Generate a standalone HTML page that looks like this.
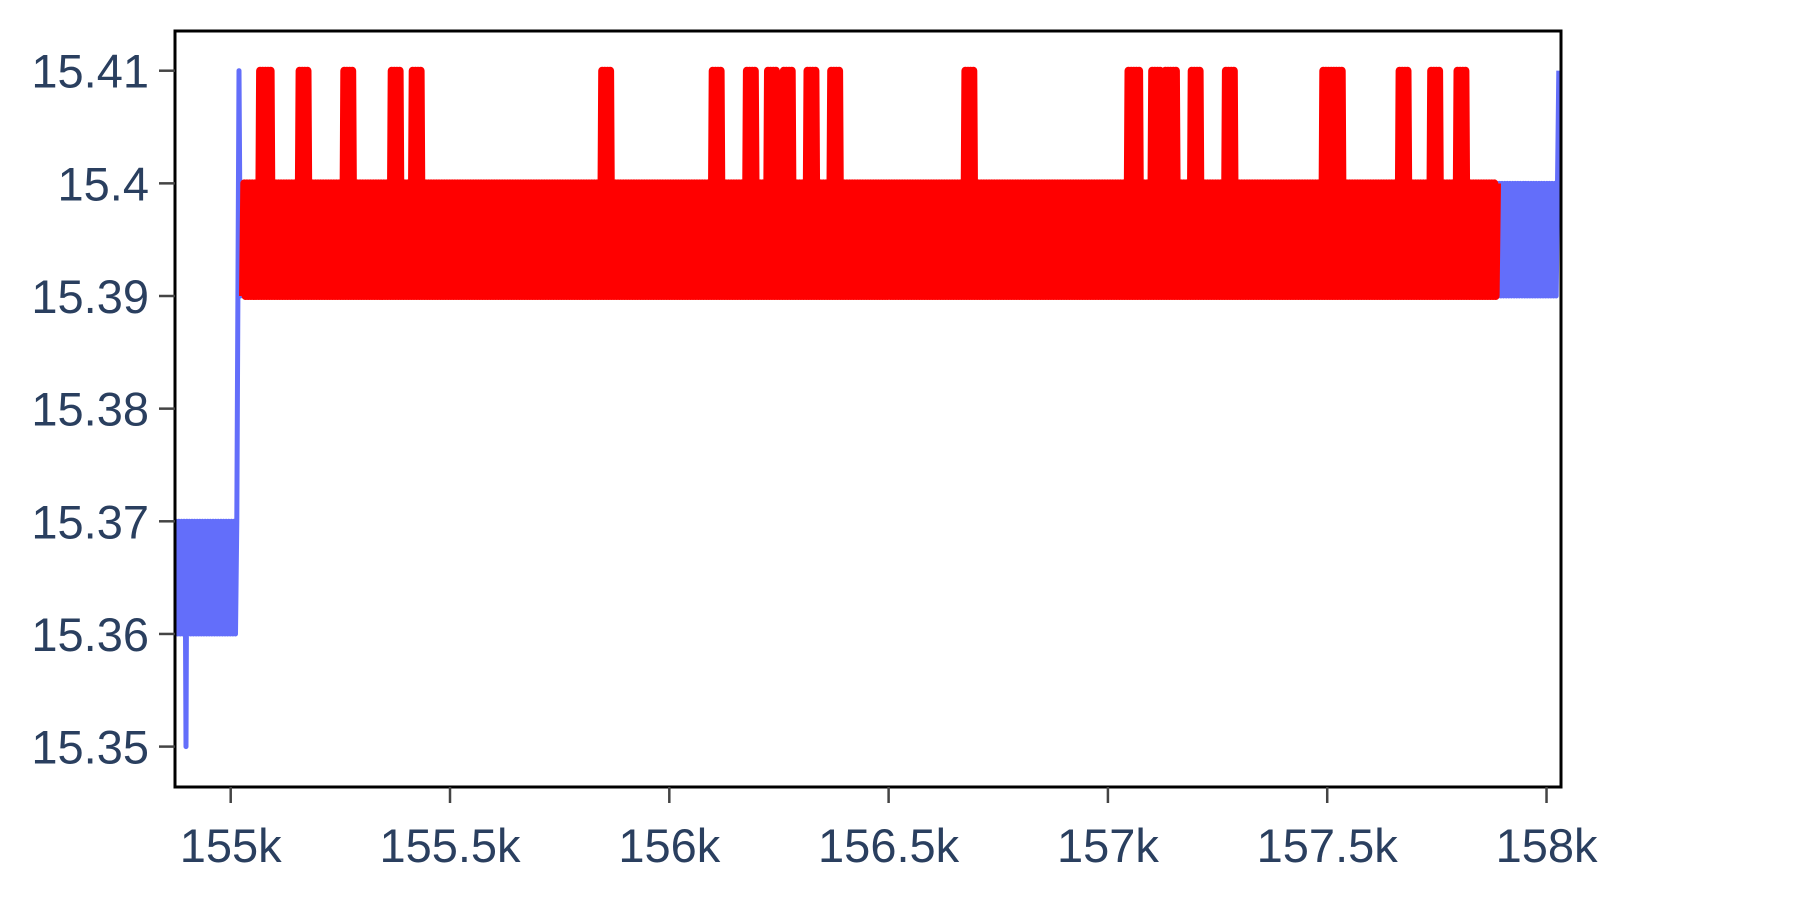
<!DOCTYPE html>
<html><head><meta charset="utf-8"><style>
html,body{margin:0;padding:0;background:#fff;}
svg{display:block;font-family:"Liberation Sans",sans-serif;}
</style></head><body>
<svg id="chart" width="1800" height="900" viewBox="0 0 1800 900">
<defs><clipPath id="plotclip"><rect x="175" y="31" width="1386" height="756"/></clipPath></defs>
<rect x="175" y="31" width="1386" height="756" fill="#fff"/>
<g id="series" clip-path="url(#plotclip)"></g>
<g id="axes"></g>
</svg>
<script>
const yTicks=[15.35,15.36,15.37,15.38,15.39,15.4,15.41];
const yTickLabels=["15.35","15.36","15.37","15.38","15.39","15.4","15.41"];
const xTicks=[155000,155500,156000,156500,157000,157500,158000];
const xTickLabels=["155k","155.5k","156k","156.5k","157k","157.5k","158k"];
const blueRuns=[[154873,155016,15.36,15.37],[155022,158022,15.39,15.40]];
const blueSingles=[[154898,15.35],[155019,15.41],[157526,15.41],[158028,15.41]];
const redRuns=[[155028,157887,15.39,15.40]];
const redSpikes=[155079,155165,155270,155375,155422,155854,156108,156187,156234,156271,156323,156376,156685,157059,157112,157143,157201,157280,157502,157526,157672,157746,157806];
const spikeValue=15.41;
const runStep=3;
const spikeHalfWidth=12;

const L=175,R=1561,T=31,B=787;
const X0=154873,X1=158033;
function xs(v){return L+(v-X0)/(X1-X0)*(R-L);}
function ys(v){return 296+(15.39-v)/0.01*112.65;}
const NS="http://www.w3.org/2000/svg";
function build(runs,singles,spikes){
  let pts=[];
  runs.forEach(r=>{let k=0;for(let x=r[0];x<=r[1];x+=runStep){pts.push([x,k%2?r[3]:r[2],k%2]);k++;}});
  singles.forEach(s=>pts.push([s[0],s[1],0]));
  spikes.forEach(sx=>{pts.forEach(p=>{if(p[2]===1&&Math.abs(p[0]-sx)<=spikeHalfWidth)p[1]=spikeValue;});});
  pts.sort((a,b)=>a[0]-b[0]);
  return pts.map((p,i)=>(i?"L":"M")+xs(p[0]).toFixed(1)+","+ys(p[1]).toFixed(1)).join("");
}
const sg=document.getElementById("series");
const pb=document.createElementNS(NS,"path");
pb.setAttribute("d",build(blueRuns,blueSingles,[]));
pb.setAttribute("fill","none");pb.setAttribute("stroke","#636efa");pb.setAttribute("stroke-width","5");pb.setAttribute("stroke-linejoin","round");


sg.appendChild(pb);
const pr=document.createElementNS(NS,"path");
pr.setAttribute("d",build(redRuns,[],redSpikes));
pr.setAttribute("fill","none");pr.setAttribute("stroke","#ff0000");pr.setAttribute("stroke-width","8");pr.setAttribute("stroke-linejoin","round");


sg.appendChild(pr);

const ax=document.getElementById("axes");
const frame=document.createElementNS(NS,"rect");
frame.setAttribute("x",L);frame.setAttribute("y",T);frame.setAttribute("width",R-L);frame.setAttribute("height",B-T);
frame.setAttribute("fill","none");frame.setAttribute("stroke","#000");frame.setAttribute("stroke-width","3");


ax.appendChild(frame);
yTicks.forEach((v,i)=>{
  const y=ys(v);
  const t=document.createElementNS(NS,"line");
  t.setAttribute("x1",159);t.setAttribute("x2",175);t.setAttribute("y1",y);t.setAttribute("y2",y);
  t.setAttribute("stroke","#444");t.setAttribute("stroke-width","2.5");
  
  
  ax.appendChild(t);
  const tx=document.createElementNS(NS,"text");
  tx.setAttribute("x",149);tx.setAttribute("y",y+17);tx.setAttribute("text-anchor","end");
  tx.setAttribute("font-size","47");tx.setAttribute("fill","#2a3f5f");
  tx.textContent=yTickLabels[i];
  
  
  ax.appendChild(tx);
});
xTicks.forEach((v,i)=>{
  const x=xs(v);
  const t=document.createElementNS(NS,"line");
  t.setAttribute("x1",x);t.setAttribute("x2",x);t.setAttribute("y1",787);t.setAttribute("y2",803);
  t.setAttribute("stroke","#444");t.setAttribute("stroke-width","2.5");
  
  
  ax.appendChild(t);
  const tx=document.createElementNS(NS,"text");
  tx.setAttribute("x",x);tx.setAttribute("y",862);tx.setAttribute("text-anchor","middle");
  tx.setAttribute("font-size","47");tx.setAttribute("fill","#2a3f5f");
  tx.textContent=xTickLabels[i];
  
  
  ax.appendChild(tx);
});
</script>
</body></html>
